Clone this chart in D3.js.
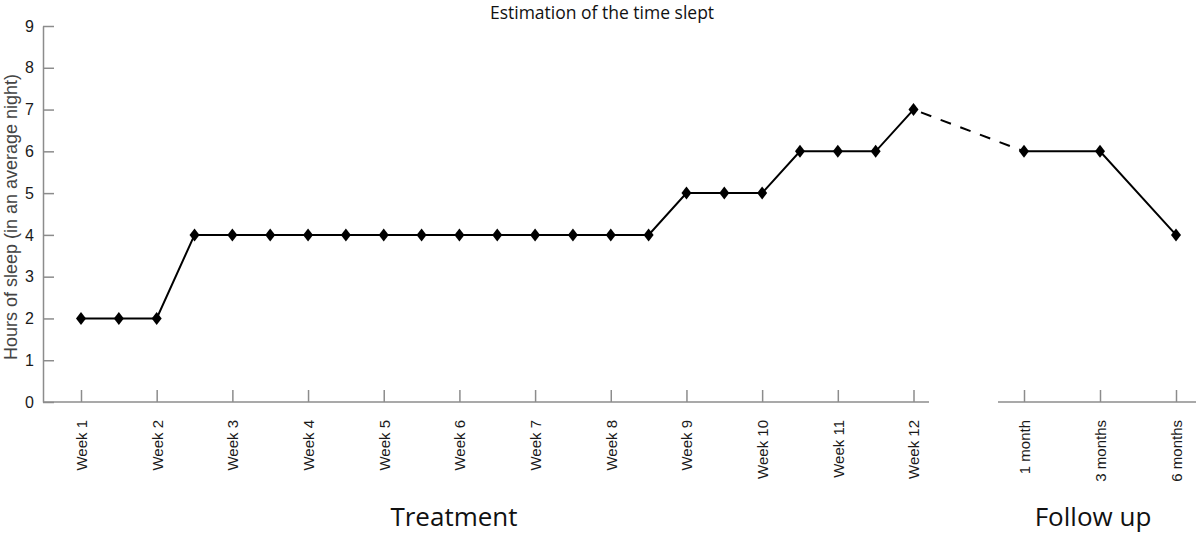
<!DOCTYPE html>
<html>
<head>
<meta charset="utf-8">
<script src="https://cdn.jsdelivr.net/npm/d3@7"></script>
<style>
  body { margin: 0; background: #fff; }
  svg { display: block; }
  .axis path, .axis line { stroke: #8c8c8c; stroke-width: 1.5; }
  .axis text { font-family: "Liberation Sans", Arial, sans-serif; fill: #1a1a1a; }
</style>
</head>
<body>
<svg id="chart" width="1196" height="534"></svg>
<script>
// data
var weekTicks = [1, 2, 3, 4, 5, 6, 7, 8, 9, 10, 11, 12];
var treatWeeks = [1, 1.5, 2, 2.5, 3, 3.5, 4, 4.5, 5, 5.5, 6, 6.5, 7, 7.5, 8, 8.5, 9, 9.5, 10, 10.5, 11, 11.5, 12];
var treatHours = [2, 2, 2, 4, 4, 4, 4, 4, 4, 4, 4, 4, 4, 4, 4, 4, 5, 5, 5, 6, 6, 6, 7];
var followLabels = ['1 month', '3 months', '6 months'];
var followHours = [6, 6, 4];
var yTicks = [0, 1, 2, 3, 4, 5, 6, 7, 8, 9];

var svg = d3.select('#chart');

var yScale = d3.scaleLinear().domain([0, 9]).range([402, 26]);
var xWeek = d3.scaleLinear().domain([1, 12]).range([81, 913.5]);
var xFollow = d3.scalePoint().domain(followLabels).range([1024, 1176]);

// y axis
var yAxis = svg.append('g').attr('class', 'axis').attr('transform', 'translate(43,0)')
  .call(d3.axisLeft(yScale).tickValues(yTicks).tickSizeInner(-11).tickSizeOuter(0).tickPadding(9));
yAxis.selectAll('text').style('font-size', '16px');

// treatment x axis
var xAxisT = svg.append('g').attr('class', 'axis x').attr('transform', 'translate(0,402)')
  .call(d3.axisBottom(xWeek).tickValues(weekTicks).tickSizeInner(-12).tickSizeOuter(0).tickFormat(function(d){ return 'Week ' + d; }));
xAxisT.select('.domain').remove();
xAxisT.insert('line', ':first-child').attr('x1', 43).attr('x2', 929).attr('y1', 0).attr('y2', 0);

// follow up x axis
var xAxisF = svg.append('g').attr('class', 'axis x').attr('transform', 'translate(0,402)')
  .call(d3.axisBottom(xFollow).tickSizeInner(-12).tickSizeOuter(0));
xAxisF.select('.domain').remove();
xAxisF.insert('line', ':first-child').attr('x1', 998).attr('x2', 1196).attr('y1', 0).attr('y2', 0);

svg.selectAll('.axis.x .tick text')
  .attr('transform', 'translate(0,18) rotate(-90)')
  .attr('text-anchor', 'end')
  .attr('x', 0).attr('y', 0).attr('dy', '0.36em')
  .style('font-size', '15px');

// lines
var treatData = treatWeeks.map(function(w, i){ return { x: xWeek(w), y: yScale(treatHours[i]) }; });
var followData = followLabels.map(function(l, i){ return { x: xFollow(l), y: yScale(followHours[i]) }; });
var lineGen = d3.line().x(function(d){ return d.x; }).y(function(d){ return d.y; });

svg.append('path').attr('d', lineGen(treatData)).attr('fill', 'none').attr('stroke', '#000').attr('stroke-width', 2);
svg.append('path').attr('d', lineGen(followData)).attr('fill', 'none').attr('stroke', '#000').attr('stroke-width', 2);
svg.append('path').attr('d', lineGen([treatData[treatData.length - 1], followData[0]]))
  .attr('fill', 'none').attr('stroke', '#000').attr('stroke-width', 2).attr('stroke-dasharray', '11,10')
  .attr('stroke-dashoffset', -8);

// diamond markers
var diamond = 'M0,-6.5L5,0L0,6.5L-5,0Z';
svg.selectAll('.marker').data(treatData.concat(followData)).enter().append('path')
  .attr('class', 'marker').attr('d', diamond)
  .attr('transform', function(d){ return 'translate(' + d.x + ',' + d.y + ')'; })
  .attr('fill', '#000');

// texts
svg.append('text').attr('x', 602).attr('y', 19).attr('text-anchor', 'middle')
  .style('font-family', '"Open Sans", sans-serif').style('font-size', '17.5px').style('fill', '#111')
  .text('Estimation of the time slept');

svg.append('text').attr('transform', 'translate(17,217) rotate(-90)').attr('text-anchor', 'middle')
  .style('font-family', '"Liberation Sans", Arial, sans-serif').style('font-size', '18px').style('fill', '#444')
  .text('Hours of sleep (in an average night)');

svg.append('text').attr('x', 454).attr('y', 526).attr('text-anchor', 'middle')
  .style('font-family', '"Open Sans", sans-serif').style('font-size', '26px').style('fill', '#111')
  .text('Treatment');

svg.append('text').attr('x', 1093).attr('y', 526).attr('text-anchor', 'middle')
  .style('font-family', '"Open Sans", sans-serif').style('font-size', '26px').style('fill', '#111')
  .text('Follow up');
</script>
</body>
</html>
